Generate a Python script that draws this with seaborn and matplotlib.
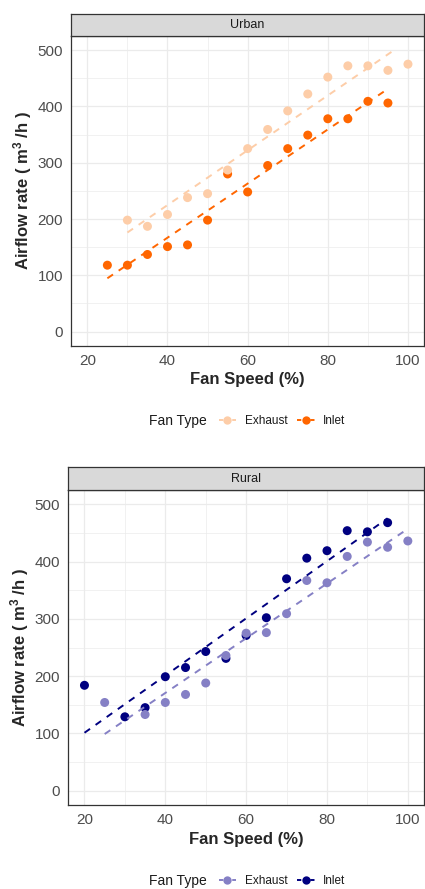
import numpy as np
import pandas as pd
import matplotlib
matplotlib.use('Agg')
import matplotlib.pyplot as plt
import seaborn as sns
from matplotlib.lines import Line2D
from matplotlib.patches import Rectangle

# Data
urban_exh_speed = [30, 35, 40, 45, 50, 55, 60, 65, 70, 75, 80, 85, 90, 95, 100]
urban_exh_flow = [198, 187, 208, 238, 245, 287, 325, 359, 392, 422, 452, 472, 472, 464, 475]
urban_inl_speed = [25, 30, 35, 40, 45, 50, 55, 60, 65, 70, 75, 80, 85, 90, 95]
urban_inl_flow = [118, 118, 137, 151, 154, 198, 280, 248, 295, 325, 349, 378, 378, 409, 406]

rural_exh_speed = [25, 35, 40, 45, 50, 55, 60, 65, 70, 75, 80, 85, 90, 95, 100]
rural_exh_flow = [154, 133, 154, 168, 188, 236, 275, 276, 309, 367, 363, 409, 434, 425, 436]
rural_inl_speed = [20, 30, 35, 40, 45, 50, 55, 60, 65, 70, 75, 80, 85, 90, 95]
rural_inl_flow = [184, 129, 145, 199, 215, 243, 231, 271, 302, 370, 406, 419, 454, 452, 468]

fan_types = ['Exhaust', 'Inlet']
urban_colors = {'Exhaust': '#FDCDA8', 'Inlet': '#FF6600'}
rural_colors = {'Exhaust': '#8580C5', 'Inlet': '#000080'}

x_ticks = [20, 40, 60, 80, 100]
y_ticks = [0, 100, 200, 300, 400, 500]

sns.set_style('white')
plt.rcParams['font.family'] = ['Liberation Sans', 'DejaVu Sans']
plt.rcParams['mathtext.default'] = 'regular'

DASH = (0, (3.5, 3.5))


def make_df(exh_x, exh_y, inl_x, inl_y):
    # inlet rows first so exhaust points sit on top
    d1 = pd.DataFrame({'speed': inl_x, 'flow': inl_y, 'type': 'Inlet'})
    d2 = pd.DataFrame({'speed': exh_x, 'flow': exh_y, 'type': 'Exhaust'})
    return pd.concat([d1, d2], ignore_index=True)


def panel(fig, rect, strip_rect, title, df, colors, ylab_x):
    ax = fig.add_axes(rect)
    sns.scatterplot(data=df, x='speed', y='flow', hue='type', palette=colors,
                    s=42, linewidth=0, ax=ax, legend=False, zorder=3)
    clip = Rectangle((16, -25), 88, 525, transform=ax.transData)
    for t in fan_types:
        sub = df[df['type'] == t]
        n_before = len(ax.lines)
        sns.regplot(data=sub, x='speed', y='flow', scatter=False, ci=None, ax=ax,
                    color=colors[t], line_kws=dict(ls=DASH, lw=1.4, zorder=4))
        for ln in ax.lines[n_before:]:
            ln.set_clip_path(clip)

    ax.set_xlim(16, 104)
    ax.set_ylim(-25, 525)
    ax.set_xticks(x_ticks)
    ax.set_yticks(y_ticks)
    ax.set_xticks([30, 50, 70, 90], minor=True)
    ax.set_yticks([50, 150, 250, 350, 450], minor=True)
    ax.grid(True, which='major', color='#EBEBEB', lw=0.9, zorder=0)
    ax.grid(True, which='minor', color='#EBEBEB', lw=0.5, zorder=0)
    ax.set_axisbelow(True)
    ax.tick_params(which='major', length=3, width=0.8, color='#333333',
                   labelsize=11, labelcolor='#4D4D4D', pad=3)
    ax.tick_params(which='minor', length=0)
    for sp in ax.spines.values():
        sp.set_visible(True)
        sp.set_color('#333333')
        sp.set_linewidth(0.9)

    ax.set_xlabel('Fan Speed (%)', fontsize=12, fontweight='bold')
    ax.set_ylabel('Airflow rate ( m$^{3}$ /h )', fontsize=12, fontweight='bold')
    ax.xaxis.set_label_coords(0.5, -0.11)
    ax.xaxis.label.set_va('center')
    ax.yaxis.set_label_coords(ylab_x, 0.5)
    ax.yaxis.label.set_va('center')

    sax = fig.add_axes(strip_rect)
    sax.set_facecolor('#D9D9D9')
    sax.set_xticks([])
    sax.set_yticks([])
    for sp in sax.spines.values():
        sp.set_visible(True)
        sp.set_color('#333333')
        sp.set_linewidth(0.9)
    sax.text(0.5, 0.5, title, ha='center', va='center', fontsize=9,
             color='#1A1A1A', transform=sax.transAxes)
    return ax


def legend(fig, y, colors):
    fig.text(149 / 425, y, 'Fan Type', ha='left', va='center', fontsize=10,
             color='#1A1A1A')
    handles = [Line2D([], [], color=colors[t], ls=(0, (2.2, 1.2)), lw=1.4,
                      marker='o', markersize=6, markeredgewidth=0)
               for t in fan_types]
    fig.legend(handles, fan_types, loc='center', bbox_to_anchor=(282 / 425, y),
               ncol=2, frameon=False, fontsize=8.5, handlelength=1.5,
               handletextpad=0.7, columnspacing=0.85, borderpad=0,
               borderaxespad=0, labelcolor='#1A1A1A')


fig = plt.figure(figsize=(4.25, 8.89), dpi=100)
W, H = 425, 889

urban = make_df(urban_exh_speed, urban_exh_flow, urban_inl_speed, urban_inl_flow)
rural = make_df(rural_exh_speed, rural_exh_flow, rural_inl_speed, rural_inl_flow)

panel(fig,
      [71.3 / W, 1 - 345.7 / H, (424 - 71.3) / W, (345.7 - 36) / H],
      [71.3 / W, 1 - 36 / H, (424 - 71.3) / W, 22 / H],
      'Urban', urban, urban_colors, -0.137)
legend(fig, 1 - 420.7 / H, urban_colors)

panel(fig,
      [68.3 / W, 1 - 805 / H, (424 - 68.3) / W, (805 - 490) / H],
      [68.3 / W, 1 - 490 / H, (424 - 68.3) / W, 22.7 / H],
      'Rural', rural, rural_colors, -0.136)
legend(fig, 1 - 880.7 / H, rural_colors)

fig.savefig('out.png', dpi=100)
